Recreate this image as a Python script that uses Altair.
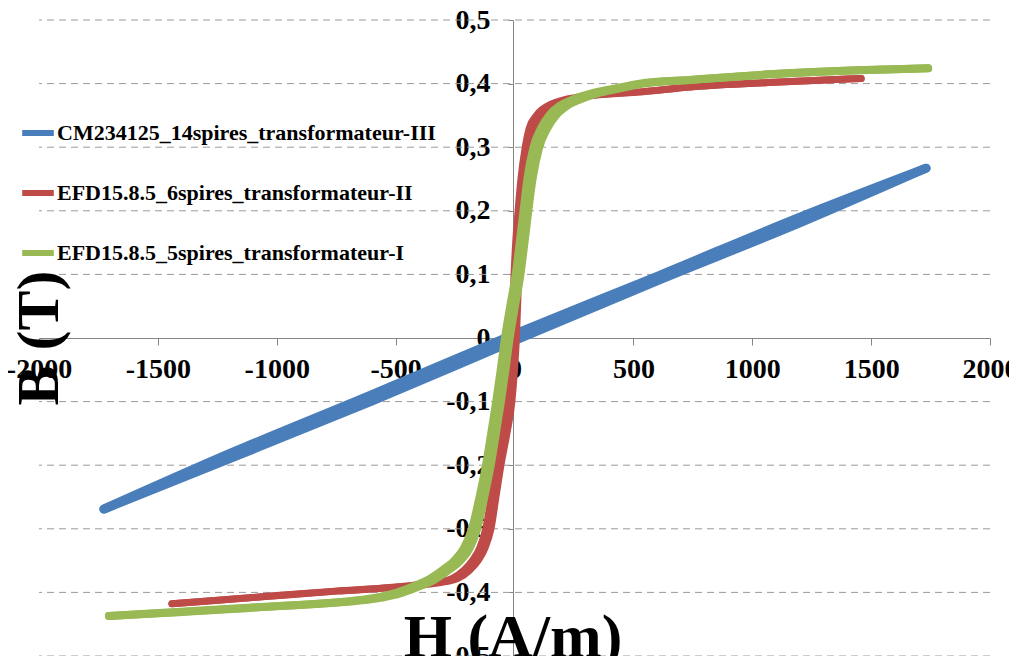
import altair as alt
import pandas as pd

SERIES = [
    "CM234125_14spires_transformateur-III",
    "EFD15.8.5_6spires_transformateur-II",
    "EFD15.8.5_5spires_transformateur-I",
]
COLORS = ["#4A7EBB", "#BE4B48", "#98B954"]
WIDTHS = [9, 7, 8]

X_TICKS = [-2000, -1500, -1000, -500, 0, 500, 1000, 1500, 2000]
Y_TICKS = [-0.5, -0.4, -0.3, -0.2, -0.1, 0, 0.1, 0.2, 0.3, 0.4, 0.5]

# CM234125 (blue) loop branches
BLUE_ASC_H = [-1727, -1200, -600, 0, 600, 1200, 1731]
BLUE_ASC_B = [-0.269, -0.190, -0.099, -0.004, 0.090, 0.181, 0.267]
BLUE_DESC_H = [1731, 1200, 600, 0, -600, -1200, -1727]
BLUE_DESC_B = [0.267, 0.190, 0.097, 0.006, -0.089, -0.182, -0.269]

# EFD15.8.5 6 spires (red) loop branches
RED_B = [-0.418, -0.407, -0.398, -0.392, -0.389, -0.385, -0.378, -0.365, -0.35, -0.33, -0.30,
         -0.25, -0.20, -0.15, -0.10, -0.05, 0.0, 0.05, 0.10, 0.15, 0.20, 0.25, 0.30, 0.33,
         0.35, 0.368, 0.379, 0.387, 0.395, 0.402, 0.408]
RED_ASC_H = [-1441, -1063, -745, -495, -408, -318, -238, -188, -153, -124, -99,
             -78, -57, -32, -11, 0, 8, 13, 18, 25, 35, 49, 69, 88,
             118, 180, 290, 540, 752, 1092, 1458]
RED_DESC_H = [-1441, -1063, -755, -513, -432, -342, -262, -212, -177, -146, -121,
              -98, -77, -52, -31, -20, -12, -7, -2, 5, 15, 27, 45, 62,
              92, 156, 270, 528, 748, 1092, 1458]

# EFD15.8.5 5 spires (green) loop branches
GREEN_B = [-0.437, -0.423, -0.41, -0.40, -0.39, -0.38, -0.365, -0.35, -0.33, -0.30, -0.25,
           -0.20, -0.15, -0.10, -0.05, 0.0, 0.05, 0.10, 0.15, 0.20, 0.25, 0.30, 0.33, 0.35,
           0.365, 0.375, 0.385, 0.392, 0.40, 0.406, 0.415, 0.424]
GREEN_ASC_H = [-1706, -1063, -590, -468, -398, -337, -277, -227, -188, -157, -127,
               -100, -78, -57, -38, -20, 2, 25, 42, 58, 76, 104, 138, 174,
               220, 275, 352, 440, 542, 755, 1092, 1740]
GREEN_DESC_H = [-1706, -1063, -610, -492, -422, -363, -303, -253, -212, -179, -147,
                -120, -98, -77, -58, -40, -18, 5, 22, 38, 54, 80, 112, 146,
                190, 245, 328, 420, 526, 745, 1092, 1740]

X_TITLE = "H (A/m)"
Y_TITLE = "B (T)"

FONT = "Liberation Serif"


def branch_rows(series, branch, hs, bs):
    return [{"series": series, "branch": branch, "H": h, "B": b} for h, b in zip(hs, bs)]


series_data = [
    branch_rows(SERIES[0], "a", BLUE_ASC_H, BLUE_ASC_B) + branch_rows(SERIES[0], "d", BLUE_DESC_H, BLUE_DESC_B),
    branch_rows(SERIES[1], "a", RED_ASC_H, RED_B) + branch_rows(SERIES[1], "d", RED_DESC_H, RED_B),
    branch_rows(SERIES[2], "a", GREEN_ASC_H, GREEN_B) + branch_rows(SERIES[2], "d", GREEN_DESC_H, GREEN_B),
]

x_scale = alt.Scale(domain=[-2000, 2000], nice=False, zero=False)
y_scale = alt.Scale(domain=[-0.5, 0.5], nice=False, zero=False)

x_axis = alt.Axis(
    values=X_TICKS,
    offset=-318,
    grid=False,
    title=None,
    domainColor="#868686",
    tickColor="#868686",
    tickSize=7,
    labelPadding=10,
    labelFont=FONT,
    labelFontSize=28,
    labelFontWeight="bold",
    labelColor="black",
    labelFlush=False,
    labelOverlap=False,
    labelBound=False,
    labelExpr="(datum.value < 0 ? '-' : '') + format(abs(datum.value), 'd')",
)
y_axis = alt.Axis(
    values=Y_TICKS,
    offset=-474,
    grid=False,
    title=None,
    domainColor="#868686",
    tickColor="#868686",
    tickSize=5,
    labelPadding=18,
    labelFont=FONT,
    labelFontSize=28,
    labelFontWeight="bold",
    labelColor="black",
    labelFlush=False,
    labelOverlap=False,
    labelBound=False,
    labelExpr="datum.value == 0 ? '0' : (datum.value < 0 ? '-' : '') + replace(format(abs(datum.value), '.1f'), '.', ',')",
)

x_enc = alt.X("H:Q", scale=x_scale, axis=x_axis)
y_enc = alt.Y("B:Q", scale=y_scale, axis=y_axis)

color_enc = alt.Color(
    "series:N",
    scale=alt.Scale(domain=SERIES, range=COLORS),
    legend=alt.Legend(
        title=None,
        orient="none",
        legendX=-20,
        legendY=94,
        symbolType="stroke",
        symbolStrokeWidth=6,
        symbolSize=1000,
        labelFont=FONT,
        labelFontSize=22,
        labelFontWeight="bold",
        labelColor="black",
        labelOffset=0,
        labelLimit=600,
        rowPadding=29,
        padding=0,
    ),
)

grid_df = pd.DataFrame({"B": [v for v in Y_TICKS if v != 0]})
grid = alt.Chart(grid_df).mark_rule(color="#9A9A9A", strokeDash=[7, 5], strokeWidth=1).encode(
    y=y_enc
)

layers = [grid]
for rows, w in zip(series_data, WIDTHS):
    df = pd.DataFrame(rows)
    layers.append(
        alt.Chart(df)
        .mark_line(strokeWidth=w, strokeCap="round", strokeJoin="round", interpolate="monotone")
        .encode(x=x_enc, y=y_enc, color=color_enc, detail="branch:N")
    )

title_df = pd.DataFrame({"t": [Y_TITLE]})
ytitle = alt.Chart(title_df).mark_text(
    font=FONT, fontSize=60, fontWeight="bold", color="black", angle=270,
    align="center", baseline="alphabetic"
).encode(text="t:N", x=alt.value(19), y=alt.value(318))

xt_df = pd.DataFrame({"t": [X_TITLE]})
xtitle = alt.Chart(xt_df).mark_text(
    font=FONT, fontSize=62, fontWeight="bold", color="black",
    align="center", baseline="alphabetic"
).encode(text="t:N", x=alt.value(474), y=alt.value(637))

layers += [ytitle, xtitle]

chart = (
    alt.layer(*layers)
    .properties(
        width=951,
        height=636,
        autosize=alt.AutoSizeParams(type="none"),
        padding={"left": 31, "top": 12, "right": 19, "bottom": 0},
    )
    .configure_view(stroke=None)
)

chart.save("out.html", embed_options={"renderer": "svg", "actions": False})
